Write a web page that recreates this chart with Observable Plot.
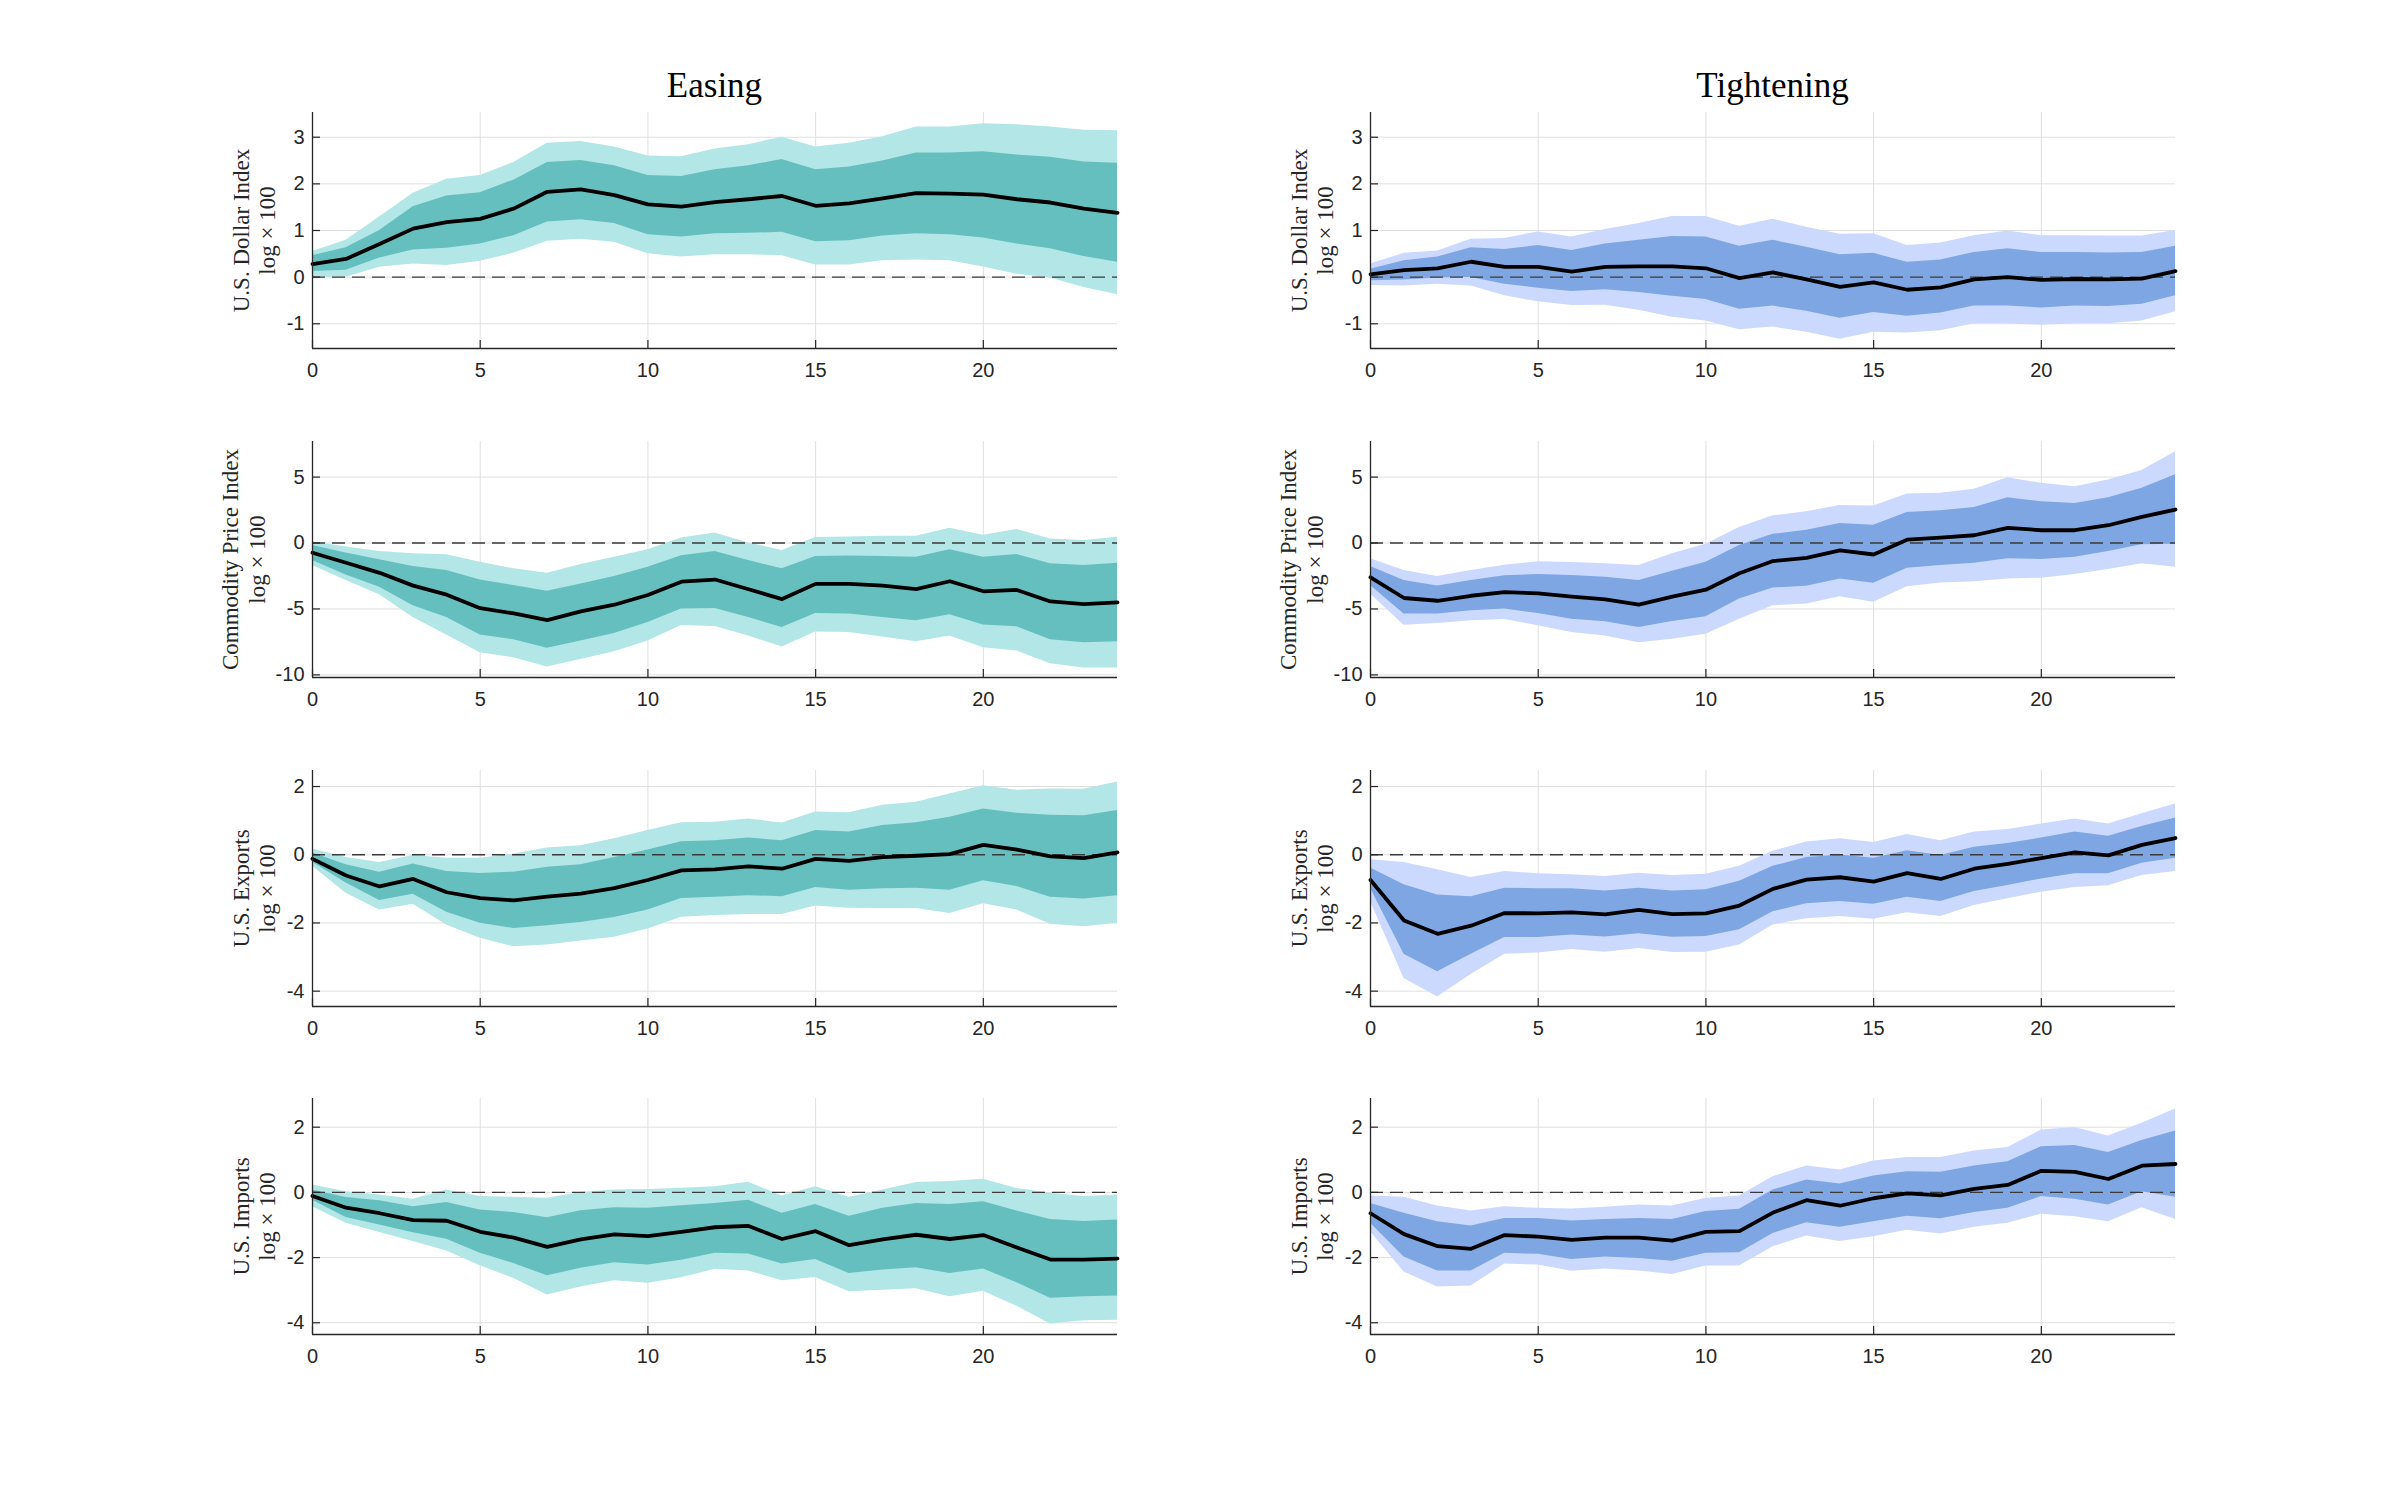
<!DOCTYPE html>
<html>
<head>
<meta charset="utf-8">
<script src="https://cdn.jsdelivr.net/npm/d3@7"></script>
<script src="https://cdn.jsdelivr.net/npm/@observablehq/plot@0.6"></script>
<style>
  html, body { margin: 0; padding: 0; background: #ffffff; }
  #page { position: relative; width: 2400px; height: 1500px; background: #ffffff; overflow: hidden; }
  .panel { position: absolute; }
  .coltitle { position: absolute; width: 600px; text-align: center; font-family: "Liberation Serif", "DejaVu Serif", serif; font-size: 35px; line-height: 35px; color: #000; }
</style>
</head>
<body>
<div id="page"></div>
<script>
// ---------------- DATA ----------------
const horizon = [0,1,2,3,4,5,6,7,8,9,10,11,12,13,14,15,16,17,18,19,20,21,22,23,24];
const xTicks = [0, 5, 10, 15, 20];
const columnTitles = ["Easing", "Tightening"];
const variableLabels = ["U.S. Dollar Index", "Commodity Price Index", "U.S. Exports", "U.S. Imports"];
const unitLabel = "log \u00d7 100";
const yTicksUSD = [-1, 0, 1, 2, 3];
const yTicksCPI = [-10, -5, 0, 5];
const yTicksEXP = [-4, -2, 0, 2];
const yTicksIMP = [-4, -2, 0, 2];
const yDomainUSD = [-1.53, 3.53];
const yDomainCPI = [-10.2, 7.7];
const yDomainEXP = [-4.45, 2.47];
const yDomainIMP = [-4.36, 2.88];

// Easing: U.S. Dollar Index
const easeUSD_med  = [0.28,0.39,0.71,1.04,1.18,1.25,1.47,1.83,1.88,1.76,1.56,1.51,1.61,1.67,1.74,1.53,1.58,1.69,1.80,1.79,1.77,1.67,1.60,1.47,1.38];
const easeUSD_hi68 = [0.46,0.63,1.00,1.51,1.74,1.81,2.08,2.46,2.50,2.39,2.18,2.16,2.30,2.39,2.52,2.30,2.36,2.49,2.66,2.66,2.69,2.62,2.57,2.47,2.44];
const easeUSD_lo68 = [0.12,0.15,0.41,0.58,0.62,0.71,0.89,1.18,1.23,1.15,0.91,0.86,0.93,0.94,0.96,0.76,0.78,0.88,0.93,0.91,0.84,0.71,0.61,0.44,0.32];
const easeUSD_hi90 = [0.55,0.79,1.29,1.80,2.10,2.18,2.46,2.87,2.91,2.79,2.60,2.58,2.75,2.84,3.00,2.79,2.87,3.01,3.22,3.22,3.29,3.27,3.22,3.15,3.14];
const easeUSD_lo90 = [0.00,0.00,0.21,0.28,0.25,0.34,0.51,0.77,0.81,0.75,0.50,0.43,0.48,0.48,0.46,0.26,0.26,0.35,0.37,0.35,0.22,0.06,-0.02,-0.22,-0.38];

// Tightening: U.S. Dollar Index
const tightUSD_med  = [0.06,0.15,0.19,0.33,0.22,0.22,0.12,0.22,0.23,0.23,0.19,-0.02,0.10,-0.05,-0.21,-0.11,-0.27,-0.22,-0.05,0.00,-0.06,-0.04,-0.05,-0.03,0.13];
const tightUSD_hi68 = [0.17,0.35,0.43,0.63,0.59,0.68,0.57,0.71,0.79,0.87,0.86,0.66,0.79,0.64,0.48,0.51,0.32,0.37,0.53,0.61,0.53,0.53,0.52,0.53,0.66];
const tightUSD_lo68 = [-0.08,-0.06,-0.02,-0.01,-0.15,-0.24,-0.31,-0.27,-0.33,-0.41,-0.48,-0.69,-0.62,-0.73,-0.88,-0.76,-0.84,-0.77,-0.62,-0.62,-0.66,-0.62,-0.63,-0.58,-0.40];
const tightUSD_hi90 = [0.28,0.51,0.56,0.81,0.83,0.97,0.86,1.02,1.15,1.30,1.30,1.09,1.24,1.07,0.92,0.93,0.68,0.73,0.89,0.99,0.89,0.89,0.88,0.88,1.00];
const tightUSD_lo90 = [-0.18,-0.19,-0.15,-0.19,-0.40,-0.53,-0.61,-0.60,-0.71,-0.86,-0.94,-1.13,-1.07,-1.18,-1.33,-1.18,-1.20,-1.15,-1.00,-1.00,-1.03,-1.00,-1.00,-0.94,-0.74];

// Easing: Commodity Price Index
const easeCPI_med  = [-0.74,-1.50,-2.26,-3.23,-3.92,-4.94,-5.34,-5.85,-5.19,-4.68,-3.94,-2.93,-2.77,-3.51,-4.25,-3.10,-3.10,-3.23,-3.49,-2.90,-3.66,-3.56,-4.43,-4.63,-4.50];
const easeCPI_hi68 = [-0.18,-0.76,-1.27,-1.78,-2.09,-2.80,-3.23,-3.66,-3.10,-2.54,-1.83,-0.97,-0.64,-1.32,-1.96,-1.02,-0.99,-1.02,-1.07,-0.51,-1.07,-0.87,-1.58,-1.70,-1.53];
const easeCPI_lo68 = [-1.32,-2.42,-3.36,-4.76,-5.65,-6.97,-7.33,-7.99,-7.43,-6.87,-6.03,-5.01,-4.96,-5.65,-6.41,-5.34,-5.39,-5.65,-5.90,-5.45,-6.21,-6.36,-7.33,-7.56,-7.48];
const easeCPI_hi90 = [0.10,-0.31,-0.64,-0.81,-0.89,-1.45,-1.96,-2.29,-1.63,-1.07,-0.51,0.38,0.76,0.00,-0.56,0.41,0.46,0.51,0.51,1.12,0.59,1.02,0.31,0.20,0.43];
const easeCPI_lo90 = [-1.70,-2.85,-3.92,-5.65,-6.97,-8.32,-8.70,-9.41,-8.83,-8.24,-7.43,-6.26,-6.34,-7.05,-7.89,-6.74,-6.79,-7.12,-7.48,-7.05,-7.94,-8.19,-9.16,-9.47,-9.47];

// Tightening: Commodity Price Index
const tightCPI_med  = [-2.60,-4.17,-4.38,-4.00,-3.72,-3.82,-4.07,-4.27,-4.68,-4.07,-3.54,-2.29,-1.37,-1.12,-0.56,-0.87,0.25,0.41,0.59,1.15,0.97,0.97,1.35,1.98,2.54];
const tightCPI_hi68 = [-1.78,-2.85,-3.26,-2.85,-2.49,-2.39,-2.47,-2.60,-2.85,-2.14,-1.45,-0.18,0.66,0.97,1.48,1.35,2.32,2.44,2.70,3.44,3.13,3.00,3.44,4.15,5.17];
const tightCPI_lo68 = [-3.23,-5.39,-5.39,-5.14,-5.01,-5.34,-5.78,-5.98,-6.41,-5.95,-5.60,-4.25,-3.41,-3.28,-2.72,-3.05,-1.91,-1.70,-1.53,-1.20,-1.25,-1.07,-0.64,-0.13,-0.10];
const tightCPI_hi90 = [-1.20,-2.09,-2.54,-2.09,-1.68,-1.42,-1.48,-1.58,-1.70,-0.81,-0.10,1.17,2.06,2.37,2.85,2.80,3.72,3.77,4.07,4.96,4.53,4.27,4.78,5.50,6.92];
const tightCPI_lo90 = [-3.87,-6.23,-6.11,-5.90,-5.80,-6.28,-6.79,-7.05,-7.56,-7.30,-6.92,-5.78,-4.76,-4.63,-4.07,-4.50,-3.31,-3.03,-2.93,-2.72,-2.67,-2.39,-2.01,-1.58,-1.83];

// Easing: U.S. Exports
const easeEXP_med  = [-0.12,-0.61,-0.93,-0.71,-1.10,-1.27,-1.34,-1.23,-1.14,-0.98,-0.74,-0.46,-0.43,-0.34,-0.41,-0.12,-0.18,-0.07,-0.03,0.02,0.29,0.15,-0.05,-0.10,0.07];
const easeEXP_hi68 = [0.05,-0.29,-0.51,-0.27,-0.49,-0.55,-0.51,-0.37,-0.29,-0.08,0.14,0.38,0.41,0.49,0.41,0.71,0.67,0.86,0.94,1.10,1.34,1.22,1.16,1.14,1.30];
const easeEXP_lo68 = [-0.22,-0.83,-1.34,-1.16,-1.69,-2.01,-2.16,-2.08,-1.99,-1.84,-1.62,-1.28,-1.25,-1.20,-1.23,-0.96,-1.04,-1.00,-0.98,-1.04,-0.76,-0.93,-1.25,-1.30,-1.20];
const easeEXP_hi90 = [0.17,-0.08,-0.23,-0.02,-0.10,-0.10,0.02,0.20,0.26,0.47,0.71,0.94,0.95,1.05,0.93,1.25,1.23,1.45,1.54,1.78,2.02,1.89,1.93,1.92,2.13];
const easeEXP_lo90 = [-0.34,-1.13,-1.62,-1.45,-2.06,-2.45,-2.70,-2.65,-2.53,-2.42,-2.18,-1.83,-1.78,-1.75,-1.75,-1.50,-1.57,-1.58,-1.58,-1.72,-1.44,-1.62,-2.04,-2.11,-2.01];

// Tightening: U.S. Exports
const tightEXP_med  = [-0.74,-1.93,-2.32,-2.08,-1.71,-1.72,-1.69,-1.75,-1.62,-1.74,-1.72,-1.49,-1.00,-0.73,-0.66,-0.79,-0.54,-0.71,-0.41,-0.27,-0.10,0.07,-0.02,0.29,0.49];
const tightEXP_hi68 = [-0.39,-0.88,-1.18,-1.23,-0.98,-1.00,-1.00,-1.06,-0.98,-1.06,-1.03,-0.78,-0.34,-0.08,-0.01,-0.10,0.12,-0.02,0.22,0.33,0.49,0.67,0.54,0.83,1.08];
const tightEXP_lo68 = [-0.98,-2.92,-3.43,-2.92,-2.43,-2.43,-2.35,-2.41,-2.32,-2.42,-2.40,-2.20,-1.67,-1.44,-1.37,-1.45,-1.25,-1.37,-1.08,-0.90,-0.71,-0.56,-0.56,-0.25,-0.10];
const tightEXP_hi90 = [-0.15,-0.23,-0.44,-0.67,-0.49,-0.56,-0.59,-0.64,-0.54,-0.61,-0.57,-0.34,0.10,0.37,0.47,0.36,0.59,0.41,0.67,0.74,0.90,1.05,0.90,1.20,1.49];
const tightEXP_lo90 = [-1.37,-3.63,-4.17,-3.51,-2.92,-2.88,-2.78,-2.86,-2.75,-2.87,-2.86,-2.65,-2.06,-1.88,-1.81,-1.89,-1.70,-1.81,-1.49,-1.29,-1.10,-0.96,-0.91,-0.61,-0.49];

// Easing: U.S. Imports
const easeIMP_med  = [-0.11,-0.47,-0.64,-0.85,-0.87,-1.21,-1.39,-1.67,-1.44,-1.29,-1.34,-1.21,-1.07,-1.03,-1.43,-1.19,-1.62,-1.44,-1.30,-1.43,-1.31,-1.69,-2.06,-2.06,-2.03];
const easeIMP_hi68 = [0.07,-0.16,-0.26,-0.44,-0.31,-0.54,-0.62,-0.78,-0.56,-0.47,-0.49,-0.41,-0.34,-0.24,-0.64,-0.37,-0.73,-0.49,-0.34,-0.37,-0.29,-0.57,-0.83,-0.89,-0.85];
const easeIMP_lo68 = [-0.24,-0.77,-1.00,-1.24,-1.44,-1.87,-2.18,-2.56,-2.33,-2.16,-2.23,-2.08,-1.87,-1.89,-2.20,-2.06,-2.49,-2.38,-2.31,-2.49,-2.35,-2.77,-3.25,-3.20,-3.18];
const easeIMP_hi90 = [0.23,0.02,-0.08,-0.21,0.07,-0.13,-0.15,-0.18,0.00,0.07,0.09,0.13,0.17,0.31,-0.11,0.17,-0.15,0.07,0.30,0.33,0.40,0.12,-0.03,-0.13,-0.08];
const easeIMP_lo90 = [-0.44,-0.95,-1.23,-1.51,-1.80,-2.25,-2.64,-3.15,-2.90,-2.71,-2.79,-2.62,-2.36,-2.41,-2.71,-2.61,-3.05,-3.00,-2.96,-3.20,-3.03,-3.49,-4.04,-3.94,-3.92];

// Tightening: U.S. Imports
const tightIMP_med  = [-0.64,-1.28,-1.65,-1.73,-1.31,-1.36,-1.46,-1.39,-1.39,-1.48,-1.21,-1.19,-0.62,-0.24,-0.41,-0.18,-0.03,-0.09,0.11,0.23,0.66,0.63,0.41,0.82,0.87];
const tightIMP_hi68 = [-0.34,-0.64,-0.90,-1.03,-0.80,-0.80,-0.88,-0.83,-0.80,-0.83,-0.59,-0.52,0.07,0.38,0.26,0.50,0.63,0.62,0.81,0.94,1.40,1.44,1.22,1.59,1.88];
const tightIMP_lo68 = [-0.95,-1.98,-2.41,-2.41,-1.87,-1.90,-2.06,-1.98,-2.03,-2.11,-1.87,-1.85,-1.26,-0.93,-1.07,-0.90,-0.73,-0.81,-0.62,-0.49,-0.13,-0.21,-0.39,0.02,-0.15];
const tightIMP_hi90 = [-0.11,-0.15,-0.42,-0.57,-0.44,-0.49,-0.51,-0.46,-0.39,-0.42,-0.18,-0.11,0.48,0.81,0.69,0.96,1.07,1.07,1.27,1.38,1.91,1.99,1.73,2.12,2.56];
const tightIMP_lo90 = [-1.21,-2.44,-2.90,-2.87,-2.20,-2.23,-2.42,-2.35,-2.41,-2.52,-2.26,-2.26,-1.67,-1.34,-1.51,-1.36,-1.16,-1.28,-1.07,-0.95,-0.67,-0.75,-0.90,-0.47,-0.83];

// ---------------- BUILD ----------------
function table(med, lo68, hi68, lo90, hi90) {
  return horizon.map((h, i) => ({h, med: med[i], lo68: lo68[i], hi68: hi68[i], lo90: lo90[i], hi90: hi90[i]}));
}

const palette = {
  Easing: {light: "#b3e6e6", dark: "#66bfbf"},
  Tightening: {light: "#ccd9ff", dark: "#7ea6e3"}
};

const rows = [
  {yDomain: yDomainUSD, yTicks: yTicksUSD, label: variableLabels[0], lab1: -71, lab2: -45,
   ease: table(easeUSD_med, easeUSD_lo68, easeUSD_hi68, easeUSD_lo90, easeUSD_hi90),
   tight: table(tightUSD_med, tightUSD_lo68, tightUSD_hi68, tightUSD_lo90, tightUSD_hi90)},
  {yDomain: yDomainCPI, yTicks: yTicksCPI, label: variableLabels[1], lab1: -82, lab2: -55,
   ease: table(easeCPI_med, easeCPI_lo68, easeCPI_hi68, easeCPI_lo90, easeCPI_hi90),
   tight: table(tightCPI_med, tightCPI_lo68, tightCPI_hi68, tightCPI_lo90, tightCPI_hi90)},
  {yDomain: yDomainEXP, yTicks: yTicksEXP, label: variableLabels[2], lab1: -71, lab2: -45,
   ease: table(easeEXP_med, easeEXP_lo68, easeEXP_hi68, easeEXP_lo90, easeEXP_hi90),
   tight: table(tightEXP_med, tightEXP_lo68, tightEXP_hi68, tightEXP_lo90, tightEXP_hi90)},
  {yDomain: yDomainIMP, yTicks: yTicksIMP, label: variableLabels[3], lab1: -71, lab2: -45,
   ease: table(easeIMP_med, easeIMP_lo68, easeIMP_hi68, easeIMP_lo90, easeIMP_hi90),
   tight: table(tightIMP_med, tightIMP_lo68, tightIMP_hi68, tightIMP_lo90, tightIMP_hi90)}
];

const ML = 110, MR = 20, MT = 15, MB = 50;
const frameW = 805, frameH = 236;
const colLeft = [312, 1370];
const rowTop = [112, 441, 770, 1098];
const axisColor = "#262626";
const gridColor = "#dfdfdf";
const serif = "'Liberation Serif', 'DejaVu Serif', serif";

function panel(row, data, colors) {
  const ymin = row.yDomain[0];
  return Plot.plot({
    width: ML + frameW + MR,
    height: MT + frameH + MB,
    marginLeft: ML, marginRight: MR, marginTop: MT, marginBottom: MB,
    style: {fontFamily: "'Liberation Sans', Arial, sans-serif", fontSize: "20px", color: axisColor, background: "transparent", overflow: "visible"},
    x: {domain: [0, 24], label: null},
    y: {domain: row.yDomain, label: null},
    marks: [
      Plot.gridX(xTicks, {stroke: gridColor, strokeOpacity: 1, strokeWidth: 1}),
      Plot.gridY(row.yTicks, {stroke: gridColor, strokeOpacity: 1, strokeWidth: 1}),
      Plot.areaY(data, {x: "h", y1: "lo90", y2: "hi90", fill: colors.light}),
      Plot.areaY(data, {x: "h", y1: "lo68", y2: "hi68", fill: colors.dark}),
      Plot.ruleY([0], {stroke: "#3a3a3a", strokeWidth: 1.3, strokeDasharray: "13,7"}),
      Plot.lineY(data, {x: "h", y: "med", stroke: "#000", strokeWidth: 3.8, strokeLinejoin: "round"}),
      Plot.axisX(xTicks, {tickSize: 0, tickPadding: 14, tickFormat: d => String(d), label: null, fontSize: 20}),
      Plot.axisY(row.yTicks, {tickSize: 0, tickPadding: 8, tickFormat: d => String(d), label: null, fontSize: 20}),
      Plot.ruleX([0], {stroke: axisColor, strokeWidth: 1.3}),
      Plot.ruleY([ymin], {stroke: axisColor, strokeWidth: 1.3}),
      Plot.ruleX(xTicks, {x: d => d, y1: ymin, y2: ymin, insetTop: -8, stroke: axisColor, strokeWidth: 1.2}),
      Plot.ruleY(row.yTicks, {y: d => d, x1: 0, x2: 0, insetRight: -8, stroke: axisColor, strokeWidth: 1.2}),
      Plot.text([row.label], {text: d => d, frameAnchor: "left", textAnchor: "middle", rotate: -90, dx: row.lab1, fontFamily: serif, fontSize: 23, fill: "#262626", lineAnchor: "middle"}),
      Plot.text([unitLabel], {text: d => d, frameAnchor: "left", textAnchor: "middle", rotate: -90, dx: row.lab2, fontFamily: serif, fontSize: 23, fill: "#262626", lineAnchor: "middle"})
    ]
  });
}

const page = document.getElementById("page");
rows.forEach((row, r) => {
  [["Easing", row.ease], ["Tightening", row.tight]].forEach(([name, data], c) => {
    const svg = panel(row, data, palette[name]);
    const wrap = document.createElement("div");
    wrap.className = "panel";
    wrap.style.left = (colLeft[c] - ML) + "px";
    wrap.style.top = (rowTop[r] - MT) + "px";
    wrap.appendChild(svg);
    page.appendChild(wrap);
  });
});

columnTitles.forEach((t, c) => {
  const d = document.createElement("div");
  d.className = "coltitle";
  d.textContent = t;
  d.style.left = (colLeft[c] + frameW / 2 - 300) + "px";
  d.style.top = "68px";
  page.appendChild(d);
});
</script>
</body>
</html>
